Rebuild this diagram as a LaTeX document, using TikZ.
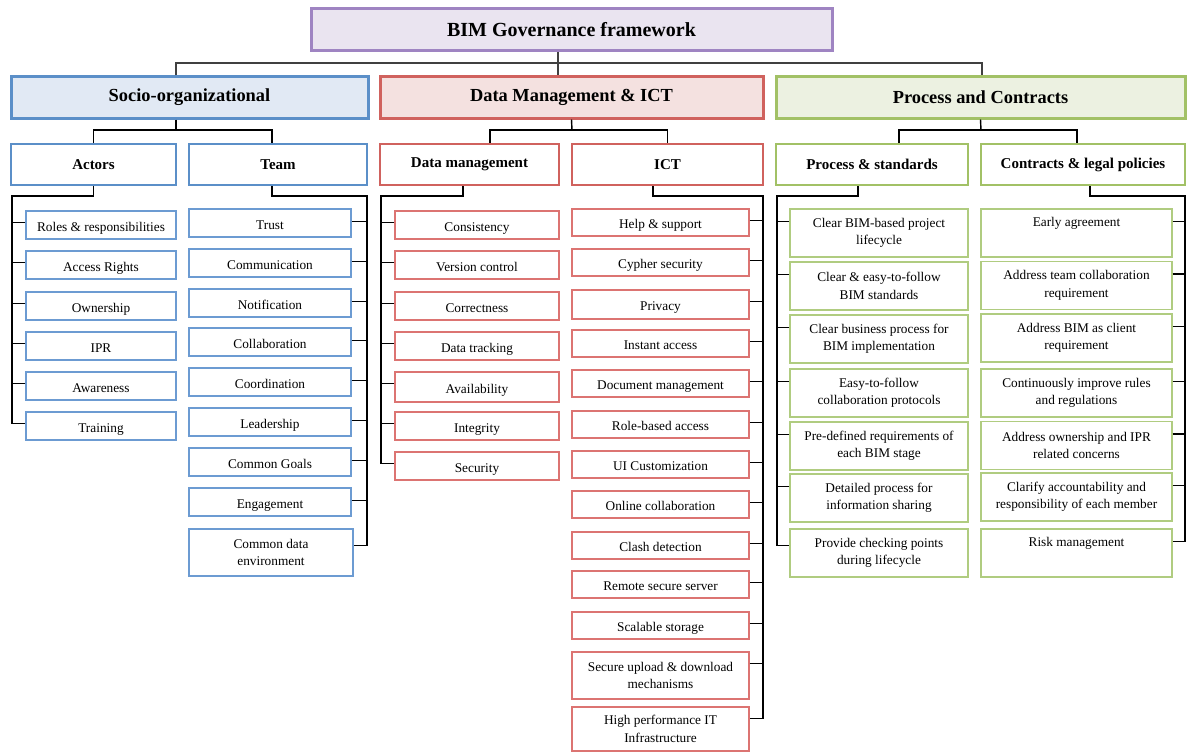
\documentclass[tikz,border=0pt]{standalone}
\usepackage{fontspec}
\setmainfont{Liberation Serif}

\definecolor{govline}{HTML}{9F84C2}
\definecolor{govfill}{HTML}{EAE4F0}
\definecolor{socline}{HTML}{5B8FC8}
\definecolor{socfill}{HTML}{E1E9F4}
\definecolor{socitem}{HTML}{6C9BD2}
\definecolor{datline}{HTML}{D0625E}
\definecolor{datfill}{HTML}{F4E1E0}
\definecolor{datitem}{HTML}{DC7472}
\definecolor{proline}{HTML}{A2C166}
\definecolor{profill}{HTML}{ECF1E1}
\definecolor{proitem}{HTML}{B0CC80}
\definecolor{busgrey}{HTML}{404040}

\begin{document}
\begin{tikzpicture}[x=1pt,y=-1pt]
    \tikzstyle{every node}+=[inner sep=0pt, align=center]
    \tikzset{
      govbox/.style={draw=govline, fill=govfill, line width=3pt, minimum width=521pt, minimum height=42pt, font=\fontsize{20}{24}\selectfont\bfseries},
      groupbox/.style 2 args={draw=#1, fill=#2, line width=3pt, minimum height=41pt, font=\fontsize{18.4}{22}\selectfont\bfseries},
      subbox/.style={draw=#1, fill=white, line width=2.5pt, minimum height=41pt, font=\fontsize{15}{18}\selectfont\bfseries},
      itembox/.style={draw=#1, fill=white, line width=1.2pt, minimum height=28pt, text height=12pt, text depth=0pt, font=\fontsize{13.3}{17.4}\selectfont},
      tallbox/.style={draw=#1, fill=white, line width=1.2pt, minimum height=48pt, font=\fontsize{13.3}{17.4}\selectfont},
      bus/.style={draw=busgrey, line width=2pt},
      link/.style={draw=black, line width=1.4pt}
    }
    \useasboundingbox (0,0) rectangle (1187,752);
    % top
    \node [govbox] (gov) at (571.5,30) {BIM Governance framework};
    % groups
    \node [groupbox={socline}{socfill}, minimum width=357pt] (soc) at (189.5,97.5) {Socio-organizational};
    \node [groupbox={datline}{datfill}, minimum width=383pt] (dat) at (571.5,97.5) {Data Management \& ICT};
    \node [groupbox={proline}{profill}, minimum width=409pt] (pro) at (980.5,97.5) {Process and Contracts};
    % sub groups
    \node [subbox=socline, minimum width=165pt] (act) at (93.5,164.5) {Actors};
    \node [subbox=socline, minimum width=178pt] (team) at (278,164.5) {Team};
    \node [subbox=datline, minimum width=179pt] (dm) at (469.5,164.5) {Data management};
    \node [subbox=datline, minimum width=191pt] (ict) at (667.5,164.5) {ICT};
    \node [subbox=proline, minimum width=192pt] (ps) at (872,164.5) {Process \& standards};
    \node [subbox=proline, minimum width=204pt] (cl) at (1083,164.5) {Contracts \& legal policies};
    % actors
    \node [itembox=socitem, minimum width=150pt] (a1) at (101,225) {Roles \& responsibilities};
    \node [itembox=socitem, minimum width=150pt] (a2) at (101,265) {Access Rights};
    \node [itembox=socitem, minimum width=150pt] (a3) at (101,306) {Ownership};
    \node [itembox=socitem, minimum width=150pt] (a4) at (101,346) {IPR};
    \node [itembox=socitem, minimum width=150pt] (a5) at (101,386) {Awareness};
    \node [itembox=socitem, minimum width=150pt] (a6) at (101,426) {Training};
    % team
    \node [itembox=socitem, minimum width=162pt] (t1) at (270,223) {Trust};
    \node [itembox=socitem, minimum width=162pt] (t2) at (270,263) {Communication};
    \node [itembox=socitem, minimum width=162pt] (t3) at (270,303) {Notification};
    \node [itembox=socitem, minimum width=162pt] (t4) at (270,342) {Collaboration};
    \node [itembox=socitem, minimum width=162pt] (t5) at (270,382) {Coordination};
    \node [itembox=socitem, minimum width=162pt] (t6) at (270,422) {Leadership};
    \node [itembox=socitem, minimum width=162pt] (t7) at (270,462) {Common Goals};
    \node [itembox=socitem, minimum width=162pt] (t8) at (270,502) {Engagement};
    \node [tallbox=socitem, minimum width=164pt, minimum height=47pt] (t9) at (271,552.5) {Common data\\environment};
    % data management
    \node [itembox=datitem, minimum width=164pt] (d1) at (477,225) {Consistency};
    \node [itembox=datitem, minimum width=164pt] (d2) at (477,265) {Version control};
    \node [itembox=datitem, minimum width=164pt] (d3) at (477,306) {Correctness};
    \node [itembox=datitem, minimum width=164pt] (d4) at (477,346) {Data tracking};
    \node [itembox=datitem, minimum width=164pt, minimum height=30pt] (d5) at (477,387) {Availability};
    \node [itembox=datitem, minimum width=164pt] (d6) at (477,426) {Integrity};
    \node [itembox=datitem, minimum width=164pt] (d7) at (477,466) {Security};
    % ict
    \node [itembox=datitem, minimum width=177pt, minimum height=27pt] (i1) at (660.5,222.5) {Help \& support};
    \node [itembox=datitem, minimum width=177pt, minimum height=27pt] (i2) at (660.5,262.5) {Cypher security};
    \node [itembox=datitem, minimum width=177pt, minimum height=29pt] (i3) at (660.5,304.5) {Privacy};
    \node [itembox=datitem, minimum width=177pt, minimum height=27pt] (i4) at (660.5,343.5) {Instant access};
    \node [itembox=datitem, minimum width=177pt, minimum height=27pt] (i5) at (660.5,383.5) {Document management};
    \node [itembox=datitem, minimum width=177pt, minimum height=27pt] (i6) at (660.5,424.5) {Role-based access};
    \node [itembox=datitem, minimum width=177pt, minimum height=27pt] (i7) at (660.5,464.5) {UI Customization};
    \node [itembox=datitem, minimum width=177pt, minimum height=27pt] (i8) at (660.5,504.5) {Online collaboration};
    \node [itembox=datitem, minimum width=177pt, minimum height=27pt] (i9) at (660.5,545.5) {Clash detection};
    \node [itembox=datitem, minimum width=177pt, minimum height=27pt] (i10) at (660.5,584.5) {Remote secure server};
    \node [itembox=datitem, minimum width=177pt, minimum height=27pt] (i11) at (660.5,625.5) {Scalable storage};
    \node [tallbox=datitem, minimum width=177pt, minimum height=47pt] (i12) at (660.5,675.5) {Secure upload \& download\\mechanisms};
    \node [tallbox=datitem, minimum width=177pt, minimum height=44pt] (i13) at (660.5,729) {High performance IT\\Infrastructure};
    % process & standards
    \node [tallbox=proitem, minimum width=178pt] (p1) at (879,233) {Clear BIM-based project\\lifecycle};
    \node [tallbox=proitem, minimum width=178pt] (p2) at (879,286) {Clear \& easy-to-follow\\BIM standards};
    \node [tallbox=proitem, minimum width=178pt] (p3) at (879,339) {Clear business process for\\BIM implementation};
    \node [tallbox=proitem, minimum width=178pt] (p4) at (879,393) {Easy-to-follow\\collaboration protocols};
    \node [tallbox=proitem, minimum width=178pt] (p5) at (879,446) {Pre-defined requirements of\\each BIM stage};
    \node [tallbox=proitem, minimum width=178pt] (p6) at (879,498) {Detailed process for\\information sharing};
    \node [tallbox=proitem, minimum width=178pt] (p7) at (879,553) {Provide checking points\\during lifecycle};
    % contracts
    \node [tallbox=proitem, minimum width=191pt] (c1) at (1076.5,233) {Early agreement\\\strut};
    \node [tallbox=proitem, minimum width=191pt] (c2) at (1076.5,285.5) {Address team collaboration\\requirement};
    \node [tallbox=proitem, minimum width=191pt] (c3) at (1076.5,338) {Address BIM as client\\requirement};
    \node [tallbox=proitem, minimum width=191pt] (c4) at (1076.5,393) {Continuously improve rules\\and regulations};
    \node [tallbox=proitem, minimum width=191pt] (c5) at (1076.5,445.5) {Address ownership and IPR\\related concerns};
    \node [tallbox=proitem, minimum width=191pt] (c6) at (1076.5,497) {Clarify accountability and\\responsibility of each member};
    \node [tallbox=proitem, minimum width=191pt] (c7) at (1076.5,553) {Risk management\\\strut};

    % top connectors
    \coordinate (j0) at (558,63);
    \draw [bus] ([xshift=-13.5pt]gov.south) -- ([xshift=-13.5pt]dat.north);
    \draw [bus] ([xshift=-13.5pt]soc.north) |- (j0) -| ([xshift=1.5pt]pro.north);
    \coordinate (j1) at (176,130);
    \coordinate (j2) at (572,130);
    \coordinate (j3) at (981,130);
    \draw [link] ([xshift=-13.5pt]soc.south) -- (j1);
    \draw [link] (act.north) |- (j1) -| ([xshift=-6pt]team.north);
    \draw [link] (dat.south) -- (j2);
    \draw [link] ([xshift=20.5pt]dm.north) |- (j2) -| (ict.north);
    \draw [link] (pro.south) -- (j3);
    \draw [link] ([xshift=27pt]ps.north) |- (j3) -| ([xshift=-6pt]cl.north);

    % actors
    \coordinate (abus) at (12,196);
    \draw [link] (act.south) |- (abus) |- ([yshift=-12pt]a6.north west);
    \draw [link] ([yshift=-12pt]a1.north west) -- ++(-14,0);
    \draw [link] ([yshift=-12pt]a2.north west) -- ++(-14,0);
    \draw [link] ([yshift=-12pt]a3.north west) -- ++(-14,0);
    \draw [link] ([yshift=-12pt]a4.north west) -- ++(-14,0);
    \draw [link] ([yshift=-12pt]a5.north west) -- ++(-14,0);
    % team
    \coordinate (tbus) at (367,196);
    \draw [link] ([xshift=-6pt]team.south) |- (tbus) |- ([yshift=-17pt]t9.north east);
    \draw [link] ([yshift=-13pt]t1.north east) -- ++(16,0);
    \draw [link] ([yshift=-13pt]t2.north east) -- ++(16,0);
    \draw [link] ([yshift=-13pt]t3.north east) -- ++(16,0);
    \draw [link] ([yshift=-13pt]t4.north east) -- ++(16,0);
    \draw [link] ([yshift=-13pt]t5.north east) -- ++(16,0);
    \draw [link] ([yshift=-13pt]t6.north east) -- ++(16,0);
    \draw [link] ([yshift=-13pt]t7.north east) -- ++(16,0);
    \draw [link] ([yshift=-13pt]t8.north east) -- ++(16,0);
    % data management
    \coordinate (dbus) at (381,196);
    \draw [link] ([xshift=-6.5pt]dm.south) |- (dbus) |- ([yshift=-12pt]d7.north west);
    \draw [link] ([yshift=-12pt]d1.north west) -- ++(-14,0);
    \draw [link] ([yshift=-12pt]d2.north west) -- ++(-14,0);
    \draw [link] ([yshift=-12pt]d3.north west) -- ++(-14,0);
    \draw [link] ([yshift=-12pt]d4.north west) -- ++(-14,0);
    \draw [link] ([yshift=-12pt]d5.north west) -- ++(-14,0);
    \draw [link] ([yshift=-12pt]d6.north west) -- ++(-14,0);
    % ict
    \coordinate (ibus) at (763,196);
    \draw [link] ([xshift=-14.5pt]ict.south) |- (ibus) |- ([yshift=-12pt]i13.north east);
    \draw [link] ([yshift=-12pt]i1.north east) -- ++(14,0);
    \draw [link] ([yshift=-12pt]i2.north east) -- ++(14,0);
    \draw [link] ([yshift=-12pt]i3.north east) -- ++(14,0);
    \draw [link] ([yshift=-12pt]i4.north east) -- ++(14,0);
    \draw [link] ([yshift=-12pt]i5.north east) -- ++(14,0);
    \draw [link] ([yshift=-12pt]i6.north east) -- ++(14,0);
    \draw [link] ([yshift=-12pt]i7.north east) -- ++(14,0);
    \draw [link] ([yshift=-12pt]i8.north east) -- ++(14,0);
    \draw [link] ([yshift=-12pt]i9.north east) -- ++(14,0);
    \draw [link] ([yshift=-12pt]i10.north east) -- ++(14,0);
    \draw [link] ([yshift=-12pt]i11.north east) -- ++(14,0);
    \draw [link] ([yshift=-12pt]i12.north east) -- ++(14,0);
    % process & standards
    \coordinate (pbus) at (777,196);
    \draw [link] ([xshift=-14pt]ps.south) |- (pbus) |- ([yshift=-17pt]p7.north west);
    \draw [link] ([yshift=-13pt]p1.north west) -- ++(-13,0);
    \draw [link] ([yshift=-13pt]p2.north west) -- ++(-13,0);
    \draw [link] ([yshift=-13pt]p3.north west) -- ++(-13,0);
    \draw [link] ([yshift=-13pt]p4.north west) -- ++(-13,0);
    \draw [link] ([yshift=-13pt]p5.north west) -- ++(-13,0);
    \draw [link] ([yshift=-13pt]p6.north west) -- ++(-13,0);
    % contracts
    \coordinate (cbus) at (1185,196);
    \draw [link] ([xshift=7pt]cl.south) |- (cbus) |- ([yshift=-13pt]c7.north east);
    \draw [link] ([yshift=-13pt]c1.north east) -- ++(13,0);
    \draw [link] ([yshift=-13pt]c2.north east) -- ++(13,0);
    \draw [link] ([yshift=-13pt]c3.north east) -- ++(13,0);
    \draw [link] ([yshift=-13pt]c4.north east) -- ++(13,0);
    \draw [link] ([yshift=-13pt]c5.north east) -- ++(13,0);
    \draw [link] ([yshift=-13pt]c6.north east) -- ++(13,0);
\end{tikzpicture}
\end{document}
